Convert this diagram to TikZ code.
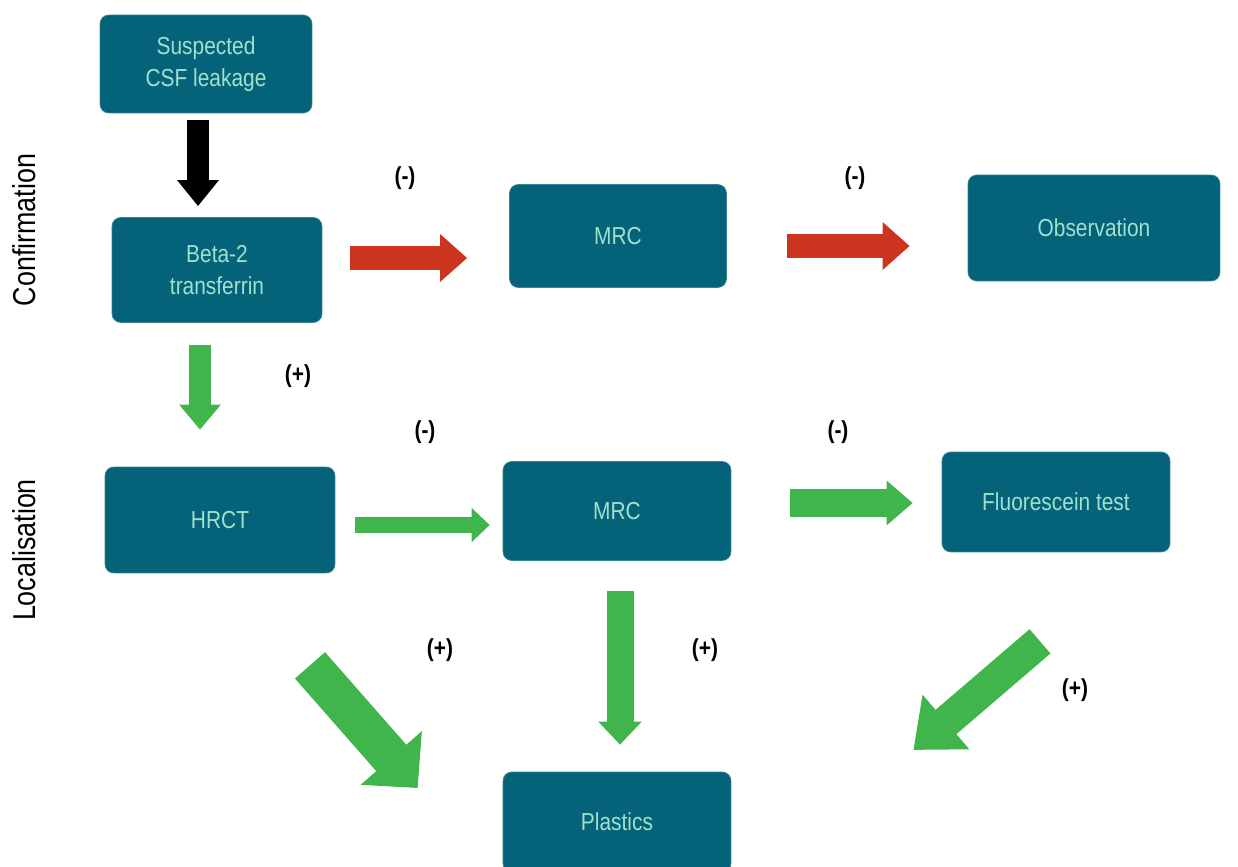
\documentclass[tikz,border=0pt]{standalone}
\usepackage{fontspec}
\setmainfont{Liberation Sans}
\newfontfamily\boxfont[FakeStretch=0.85]{Liberation Sans}
\usepackage{xcolor}
\definecolor{BoxTeal}{RGB}{4, 99, 120}
\definecolor{BoxText}{RGB}{160, 224, 206}
\definecolor{PosGreen}{RGB}{64, 181, 76}
\definecolor{NegRed}{RGB}{204, 52, 32}
\usepackage{tikz}
\usetikzlibrary{arrows.meta, positioning, calc}

\tikzset{
  box/.style={draw=BoxTeal!80!white, rounded corners=5pt, fill=BoxTeal, text=BoxText,
    font=\boxfont\fontsize{14}{18}\selectfont, align=center, inner sep=0pt},
  sign/.style={font=\boxfont\bfseries\fontsize{14}{16}\selectfont},
  phase/.style={rotate=90, font=\boxfont\fontsize{18}{20}\selectfont},
  fat/.style n args={3}{line width=#1, -{Triangle[length=#2, width=#3]}},
}

\begin{document}
\begin{tikzpicture}[x=0.02cm, y=-0.02cm]
  \useasboundingbox (0,0) rectangle (1238,866);
  % steps
  \node[box, minimum width=4.24cm, minimum height=1.96cm] (susp) at (206,64) {Suspected\\CSF leakage};
  \node[box, minimum width=4.2cm, minimum height=2.1cm] (beta) at (217,270) {Beta-2\\transferrin};
  \node[box, minimum width=4.34cm, minimum height=2.06cm] (mrcA) at (618,236) {MRC};
  \node[box, minimum width=5.04cm, minimum height=2.12cm] (obs) at (1094,228) {Observation};
  \node[box, minimum width=4.6cm, minimum height=2.12cm] (hrct) at (220,520) {HRCT};
  \node[box, minimum width=4.56cm, minimum height=1.98cm] (mrcB) at (617,511) {MRC};
  \node[box, minimum width=4.56cm, minimum height=2cm] (fluor) at (1056,502) {Fluorescein test};
  \node[box, minimum width=4.56cm, minimum height=2cm] (plast) at (617,822) {Plastics};

  % phase labels
  \node[phase] (conf) at (24,230) {Confirmation};
  \node[phase] (loc) at (24,550) {Localisation};

  % block arrows
  \draw[black, fat={0.46cm}{0.52cm}{0.8cm}] ($(susp.south)+(-8,7)$) -- ($(beta.north)+(-19,-11)$);
  \draw[NegRed, fat={0.48cm}{0.54cm}{0.92cm}] ($(beta.east)+(28,-12)$) -- ($(mrcA.west)+(-42,22)$);
  \draw[NegRed, fat={0.48cm}{0.54cm}{0.92cm}] ($(mrcA.east)+(60,10)$) -- ($(obs.west)+(-58,18)$);
  \draw[PosGreen, fat={0.44cm}{0.5cm}{0.8cm}] ($(beta.south)+(-17,22)$) -- ($(hrct.north)+(-20,-37)$);
  \draw[PosGreen, fat={0.32cm}{0.36cm}{0.66cm}] ($(hrct.east)+(20,5)$) -- ($(mrcB.west)+(-13,14)$);
  \draw[PosGreen, fat={0.56cm}{0.52cm}{0.86cm}] ($(mrcB.east)+(59,-8)$) -- ($(fluor.west)+(-29,1)$);
  \draw[PosGreen, fat={0.54cm}{0.46cm}{0.84cm}] ($(mrcB.south)+(3,30)$) -- ($(plast.north)+(3,-27)$);
  \draw[PosGreen, fat={0.8cm}{0.8cm}{1.58cm}] ($(hrct.south)+(90,92)$) -- ($(plast.west)+(-85,-34)$);
  \draw[PosGreen, fat={0.64cm}{0.86cm}{1.38cm}] ($(fluor.south)+(-16,89)$) -- ($(plast.east)+(182,-72)$);

  % outcome signs
  \node[sign] (s1) at (405,178) {(-)};
  \node[sign] (s2) at (855,178) {(-)};
  \node[sign] (s3) at (298,376) {(+)};
  \node[sign] (s4) at (425,432) {(-)};
  \node[sign] (s5) at (838,432) {(-)};
  \node[sign] (s6) at (440,650) {(+)};
  \node[sign] (s7) at (705,650) {(+)};
  \node[sign] (s8) at (1075,690) {(+)};
\end{tikzpicture}
\end{document}
